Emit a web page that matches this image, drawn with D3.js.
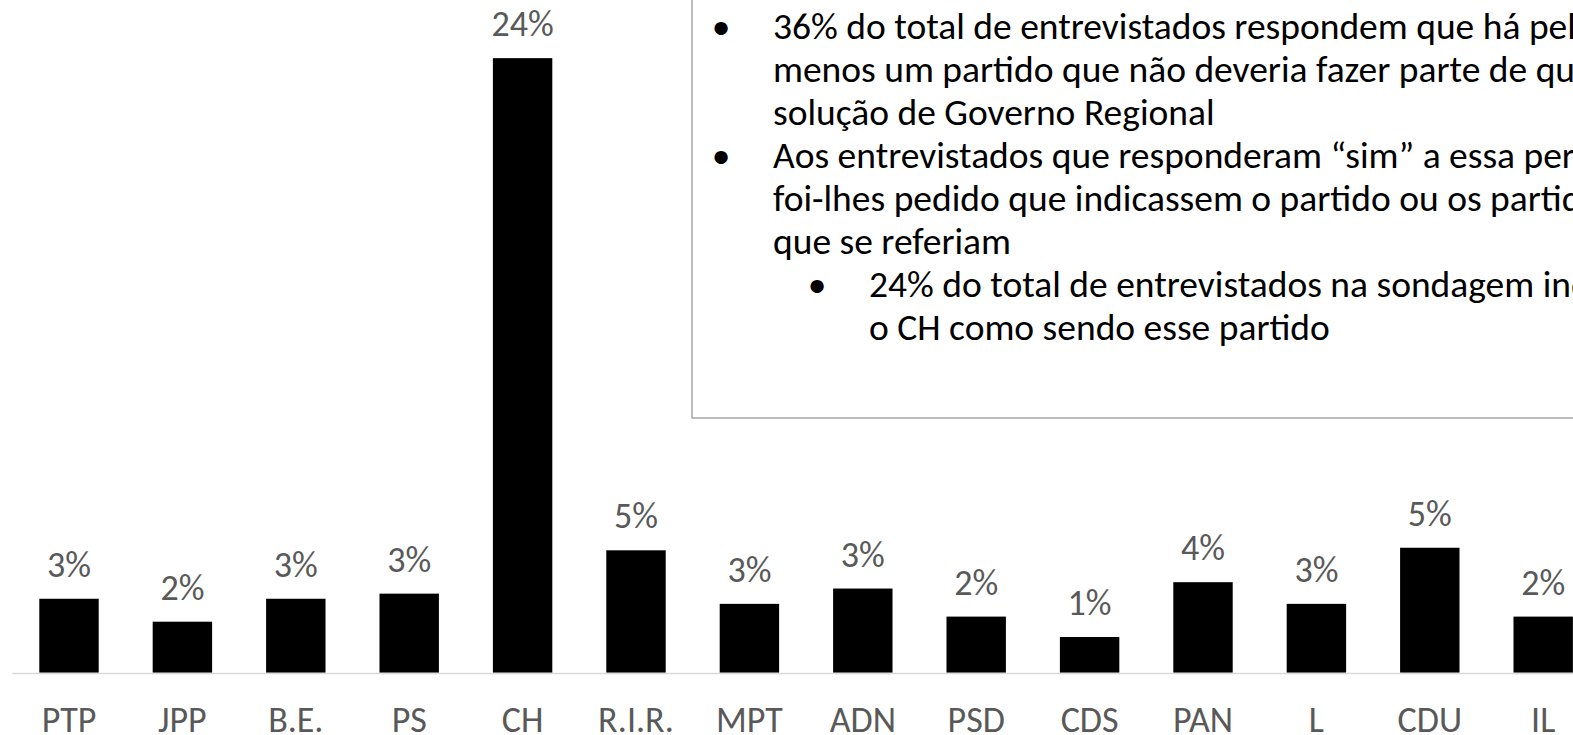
<!DOCTYPE html>
<html>
<head>
<meta charset="utf-8">
<script src="https://cdn.jsdelivr.net/npm/d3@7"></script>
<style>
	html, body { margin: 0; padding: 0; background: #fff; overflow: hidden; }
	svg { display: block; font-family: Carlito, Calibri, 'Open Sans', sans-serif; }
</style>
</head>
<body>
<svg id="chart" width="1573" height="735"></svg>
<script>
// parties, in the order shown
const parties = ['PTP', 'JPP', 'B.E.', 'PS', 'CH', 'R.I.R.', 'MPT', 'ADN', 'PSD', 'CDS', 'PAN', 'L', 'CDU', 'IL']

// share of all respondents naming each party (%)
const shares = [2.9, 2.0, 2.9, 3.1, 24.1, 4.8, 2.7, 3.3, 2.2, 1.4, 3.55, 2.7, 4.9, 2.2]

// note box, already wrapped the way it is on the slide
const noteBullets = [
	{ level: 1, lines: ['36% do total de entrevistados respondem que há pelo', 'menos um partido que não deveria fazer parte de qualquer', 'solução de Governo Regional'] },
	{ level: 1, lines: ['Aos entrevistados que responderam “sim” a essa pergunta,', 'foi-lhes pedido que indicassem o partido ou os partidos a', 'que se referiam'] },
	{ level: 2, lines: ['24% do total de entrevistados na sondagem indicaram', 'o CH como sendo esse partido'] },
]

const svg = d3.select('#chart')
const W = 1573
const baseY = 672.7
const labelSize = 36
const noteSize = 37.5
const labelColor = '#595959'

//Category axis, one band per party
const x = d3.scaleBand().domain(parties).range([12.3, 12.3 + 113.4 * parties.length]).paddingInner(0.476).paddingOuter(0.238)

//Value axis, no ticks shown
const y = d3.scaleLinear().domain([0, baseY / 25.5]).range([baseY, 0])

//Bars
svg.append('g')
	.selectAll('rect')
	.data(parties)
	.enter()
	.append('rect')
	.attr('x', (d) => x(d))
	.attr('y', (d, i) => y(shares[i]))
	.attr('width', x.bandwidth())
	.attr('height', (d, i) => baseY - y(shares[i]))
	.attr('fill', '#000')

//Axis line
svg.append('line')
	.attr('x1', x.range()[0])
	.attr('x2', W + 10)
	.attr('y1', baseY + 0.8)
	.attr('y2', baseY + 0.8)
	.attr('stroke', '#d9d9d9')
	.attr('stroke-width', 1.6)

//Value labels above bars
svg.append('g')
	.selectAll('text')
	.data(parties)
	.enter()
	.append('text')
	.attr('x', (d) => x(d) + x.bandwidth() / 2)
	.attr('y', (d, i) => y(shares[i]) - 22)
	.attr('text-anchor', 'middle')
	.attr('fill', labelColor)
	.style('font-size', labelSize + 'px')
	.text((d, i) => Math.round(shares[i]) + '%')

//Category labels
svg.append('g')
	.selectAll('text')
	.data(parties)
	.enter()
	.append('text')
	.attr('x', (d) => x(d) + x.bandwidth() / 2)
	.attr('y', 732)
	.attr('text-anchor', 'middle')
	.attr('fill', labelColor)
	.style('font-size', labelSize + 'px')
	.text((d) => d)

//Note box (runs off the top and right of the slide)
svg.append('rect')
	.attr('x', 692)
	.attr('y', -20)
	.attr('width', W)
	.attr('height', 418 + 20)
	.attr('fill', '#fff')
	.attr('stroke', '#a6a6a6')
	.attr('stroke-width', 1.5)

const note = svg.append('g').style('font-size', noteSize + 'px').attr('fill', '#000')
const lineH = 43.1
let row = 0
noteBullets.forEach((b) => {
	const bulletX = b.level == 1 ? 721 : 817
	const textX = b.level == 1 ? 773 : 869
	note.append('text')
		.attr('x', bulletX)
		.attr('y', 38.5 + row * lineH)
		.attr('text-anchor', 'middle')
		.text('•')
	b.lines.forEach((l) => {
		note.append('text')
			.attr('x', textX)
			.attr('y', 38.5 + row * lineH)
			.text(l)
		row++
	})
})
</script>
</body>
</html>
